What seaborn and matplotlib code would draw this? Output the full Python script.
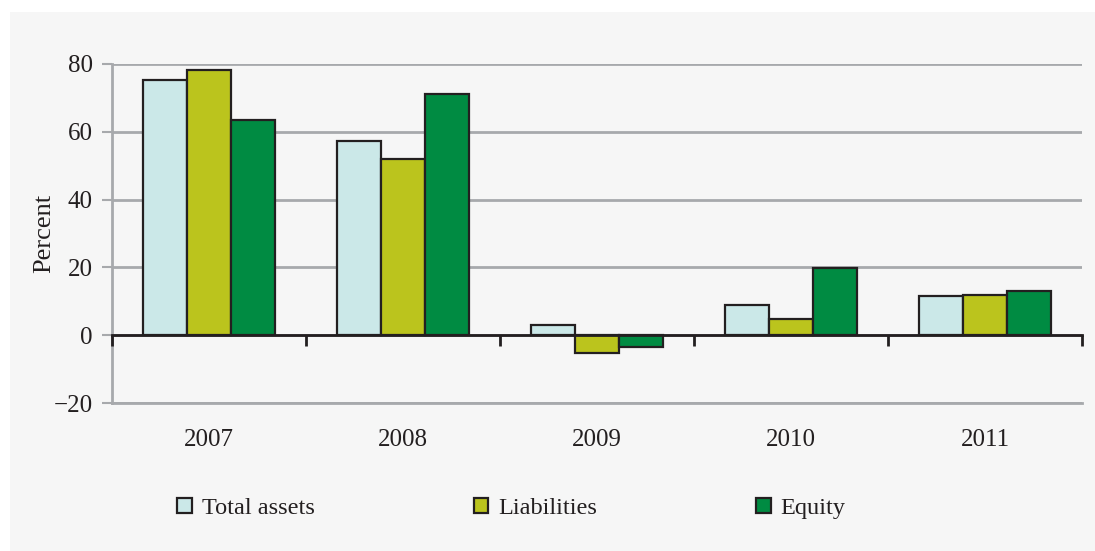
import matplotlib
matplotlib.use("Agg")
import matplotlib.pyplot as plt
from matplotlib.patches import Rectangle, Patch
import seaborn as sns
import pandas as pd
import numpy as np

years = ["2007", "2008", "2009", "2010", "2011"]
series = ["Total assets", "Liabilities", "Equity"]
total_assets = [75.2, 57.2, 3.0, 8.8, 11.5]
liabilities = [78.2, 51.9, -5.3, 4.7, 11.8]
equity = [63.4, 71.1, -3.5, 19.8, 13.0]
colors = ["#cbe8e8", "#bbc41d", "#008b42"]
y_ticks = [-20, 0, 20, 40, 60, 80]

df = pd.DataFrame({
    "Year": years * 3,
    "Series": [s for s in series for _ in years],
    "Percent": total_assets + liabilities + equity,
})

sns.set_theme(style="white")
plt.rcParams["font.family"] = ["Liberation Serif", "DejaVu Serif"]

panel_bg = "#f6f6f6"
grid_c = "#a7a9ac"
dark = "#231f20"
fs = 18

fig = plt.figure(figsize=(10.95, 5.51), dpi=100, facecolor="white")
fig.patches.append(Rectangle((10 / 1095, 0), 1 - 10 / 1095, 1 - 12 / 551,
                             transform=fig.transFigure, facecolor=panel_bg,
                             edgecolor="none", zorder=-10))

ax = fig.add_axes([112 / 1095, 148 / 551, (1082 - 112) / 1095, (403 - 64) / 551])
ax.set_facecolor(panel_bg)

sns.barplot(data=df, x="Year", y="Percent", hue="Series", hue_order=series,
            order=years, palette=colors, saturation=1, width=0.68,
            edgecolor=dark, linewidth=1.6, legend=False, ax=ax, zorder=3)

ax.set_ylim(-20, 80)
ax.set_xlim(-0.5, len(years) - 0.5)
ax.set_yticks(y_ticks)
ax.set_yticklabels(["\u221220" if v < 0 else str(v) for v in y_ticks])
ax.yaxis.grid(True, color=grid_c, linewidth=2)
ax.set_axisbelow(True)

for side in ["top", "right"]:
    ax.spines[side].set_visible(False)
ax.spines["left"].set_color(grid_c)
ax.spines["left"].set_linewidth(2)
ax.spines["bottom"].set_color(grid_c)
ax.spines["bottom"].set_linewidth(2)

ax.tick_params(axis="y", colors=grid_c, labelcolor=dark, length=7,
               width=1.5, labelsize=fs, pad=7, left=True)
ax.tick_params(axis="x", length=0, labelsize=fs, pad=19, labelcolor=dark)
ax.set_xlabel("")
ax.set_ylabel("Percent", fontsize=19, color=dark, labelpad=-1)

# zero line with category boundary ticks
zero_ax = ax.secondary_xaxis(20 / 100)
zero_ax.set_xticks(np.arange(len(years) + 1) - 0.5)
zero_ax.set_xticklabels([])
zero_ax.spines["bottom"].set_color(dark)
zero_ax.spines["bottom"].set_linewidth(2)
zero_ax.tick_params(axis="x", direction="out", length=8, width=2, color=dark)
zero_ax.set_zorder(5)

handles = [Patch(facecolor=c, edgecolor=dark, linewidth=1.6) for c in colors]
fig.legend(handles, series, loc="center", bbox_to_anchor=(0.467, 0.077),
           ncol=3, frameon=False, fontsize=17.5, handlelength=0.6,
           handleheight=0.6, handletextpad=0.4, columnspacing=6.55,
           labelcolor=dark)

fig.savefig("out.png", dpi=100, facecolor="white")
